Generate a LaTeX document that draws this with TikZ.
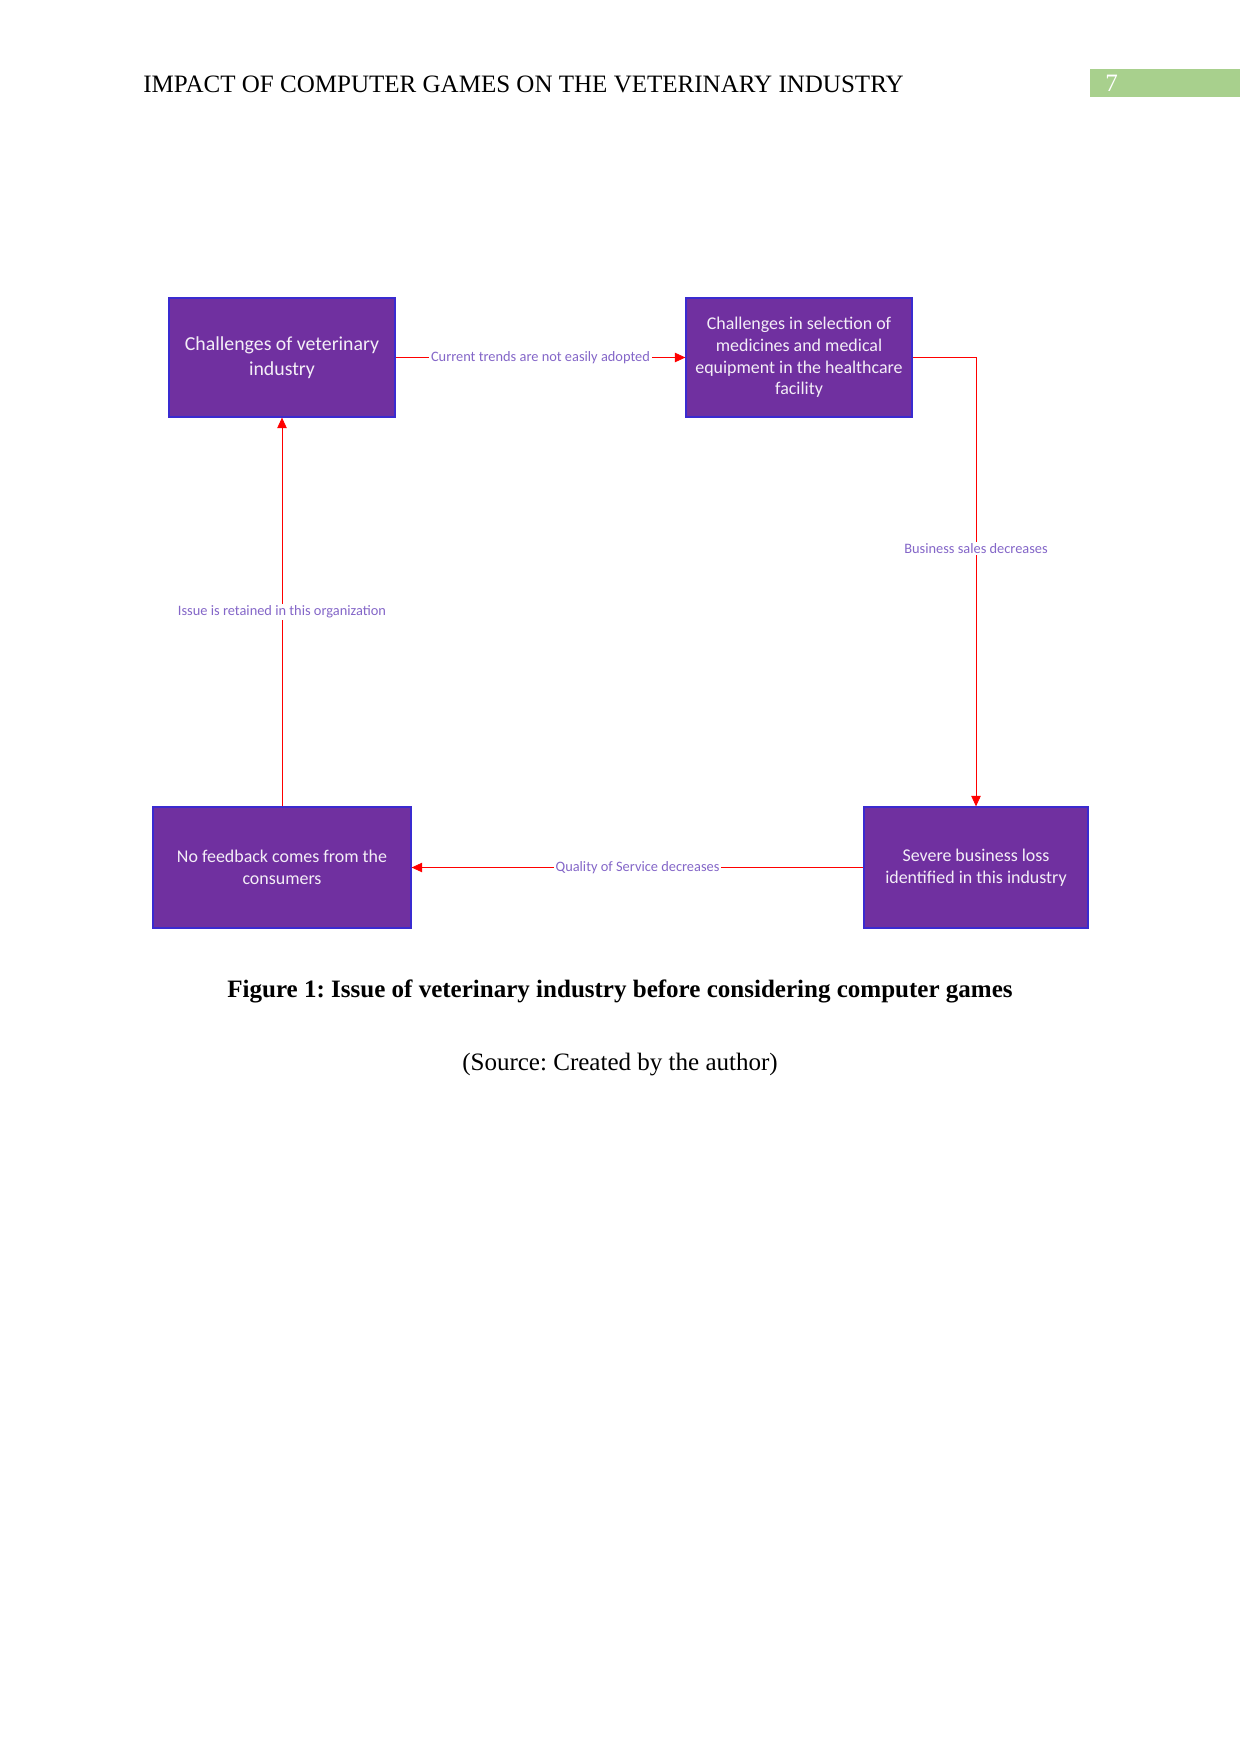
\documentclass[tikz,border=0pt]{standalone}
\usepackage{fontspec}
\setmainfont{Liberation Serif}
\newfontfamily\boxfont{Carlito}
\usetikzlibrary{arrows.meta}
\definecolor{boxfill}{HTML}{7030A0}
\definecolor{boxline}{HTML}{3A2BD0}
\definecolor{lblcol}{HTML}{8466C8}
\definecolor{hdrgreen}{HTML}{A8D08D}
\frenchspacing
\begin{document}
\begin{tikzpicture}[x=0.4795pt,y=-0.4795pt,
  pbox/.style={draw=boxline, line width=0.6pt, fill=boxfill, text=white!92!boxfill,
    font=\boxfont\fontsize{8.6}{10.4}\selectfont, align=center, inner sep=0pt},
  conn/.style={draw=red, line width=0.4pt, -{Triangle[length=5pt,width=4.5pt]}},
  lbl/.style={fill=white, text=lblcol, font=\boxfont\fontsize{6.9}{7.5}\selectfont, inner sep=0.8pt}]
\useasboundingbox (0,0) rectangle (1241,1754);
% header
\node[anchor=west, font=\fontsize{12}{14}\selectfont] (hdr) at (136,84) {IMPACT OF COMPUTER GAMES ON THE VETERINARY INDUSTRY};
\node[fill=hdrgreen, minimum width=150*0.4795pt, minimum height=28*0.4795pt, inner sep=0pt] (pg) at (1165,83) {};
\node[anchor=west, text=white, font=\fontsize{12}{14}\selectfont] (pgnum) at (1098,83) {7};
% boxes
\node[pbox, minimum width=226*0.4795pt, minimum height=119*0.4795pt, font=\boxfont\fontsize{9.5}{11.8}\selectfont] (b1) at (282,357.5) {Challenges of veterinary\\industry};
\node[pbox, minimum width=226*0.4795pt, minimum height=119*0.4795pt] (b2) at (799,357.5) {Challenges in selection of\\medicines and medical\\equipment in the healthcare\\facility};
\node[pbox, minimum width=258*0.4795pt, minimum height=121*0.4795pt] (b3) at (282,867.5) {No feedback comes from the\\consumers};
\node[pbox, minimum width=224*0.4795pt, minimum height=121*0.4795pt] (b4) at (976,867.5) {Severe business loss\\identified in this industry};
% connectors
\coordinate (c1) at (b4.north |- b2.east);
\draw[conn] (b1.east) -- node[lbl] {Current trends are not easily adopted} (b2.west);
\draw[conn] (b2.east) -- (c1) -- node[lbl, pos=0.425] {Business sales decreases} (b4.north);
\draw[conn] (b4.west) -- node[lbl, pos=0.5] {Quality of Service decreases} (b3.east);
\draw[conn] (b3.north) -- node[lbl, pos=0.5] {Issue is retained in this organization} (b1.south);
% caption
\node[font=\bfseries\fontsize{12}{14}\selectfont] (cap) at (620,991) {Figure 1: Issue of veterinary industry before considering computer games};
\node[font=\fontsize{12}{14}\selectfont] (src) at (620,1065) {(Source: Created by the author)};
\end{tikzpicture}
\end{document}
